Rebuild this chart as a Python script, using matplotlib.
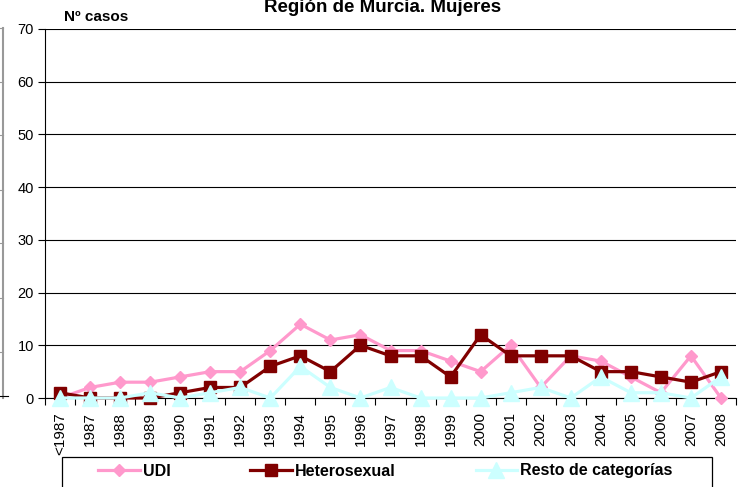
import matplotlib
matplotlib.use("Agg")
import matplotlib.pyplot as plt
from matplotlib.lines import Line2D
from matplotlib.patches import Rectangle

plt.rcParams['font.family'] = ['Liberation Sans', 'DejaVu Sans']

years = ["<1987", "1987", "1988", "1989", "1990", "1991", "1992", "1993", "1994", "1995",
         "1996", "1997", "1998", "1999", "2000", "2001", "2002", "2003", "2004", "2005",
         "2006", "2007", "2008"]
udi = [0, 2, 3, 3, 4, 5, 5, 9, 14, 11, 12, 9, 9, 7, 5, 10, 2, 8, 7, 4, 1, 8, 0]
hetero = [1, 0, 0, 0, 1, 2, 2, 6, 8, 5, 10, 8, 8, 4, 12, 8, 8, 8, 5, 5, 4, 3, 5]
resto = [0, 0, 0, 1, 0, 1, 2, 0, 6, 2, 0, 2, 0, 0, 0, 1, 2, 0, 4, 1, 1, 0, 4]
yticks = [0, 10, 20, 30, 40, 50, 60, 70]

W, H = 744, 487
fig = plt.figure(figsize=(W/100, H/100), dpi=100)
ax = fig.add_axes([45/W, 1 - 398/H, (736-45)/W, (398-29)/H])

x = list(range(len(years)))
ax.plot(x, udi, color="#FF99CC", lw=2.3, marker="D", ms=6.5, label="UDI", zorder=3, clip_on=False)
ax.plot(x, hetero, color="#800000", lw=2.3, marker="s", ms=9, label="Heterosexual", zorder=4, clip_on=False)
ax.plot(x, resto, color="#CCFFFF", lw=2.3, marker="^", ms=11, label="Resto de categorías", zorder=5, clip_on=False)

ax.set_xlim(-0.5, len(years) - 0.5)
ax.set_ylim(0, 70)
ax.set_yticks(yticks)
ax.set_yticklabels([str(v) for v in yticks], fontsize=10.5)
ax.yaxis.grid(True, color="black", lw=0.8)
ax.set_axisbelow(True)
ax.tick_params(axis='y', direction='out', length=5, width=0.8, pad=3)

ax.set_xticks([i - 0.5 for i in range(len(years) + 1)], minor=False)
ax.set_xticklabels([])
ax.set_xticks(x, minor=True)
ax.set_xticklabels(years, minor=True, rotation=90, fontsize=11)
ax.tick_params(axis='x', which='major', direction='out', length=5, width=0.8)
ax.tick_params(axis='x', which='minor', length=0, pad=10)

for s in ["top", "right"]:
    ax.spines[s].set_visible(False)
ax.spines["left"].set_linewidth(0.8)
ax.spines["bottom"].set_linewidth(0.8)

fig.text(383/W, 1 - 7/H, "Región de Murcia. Mujeres", ha="center", va="center",
         fontsize=13.5, fontweight="bold")
fig.text(64/W, 1 - 17/H, "Nº casos", ha="left", va="center", fontsize=11, fontweight="bold")

# legend box
fig.add_artist(Rectangle((62/W, 1 - 490/H), (712-62)/W, (490-457)/H, transform=fig.transFigure,
                         facecolor="white", edgecolor="black", lw=0.9, zorder=1))
leg = fig.legend(loc="center left", bbox_to_anchor=(98/W, 1 - 471/H), ncol=3, frameon=False,
                 handlelength=2.6, handletextpad=0.2, columnspacing=5.0, borderpad=0,
                 borderaxespad=0, prop={'weight': 'bold', 'size': 11.5})
leg.set_zorder(2)

# clipped neighbouring frame on the left edge
fig.add_artist(Line2D([3/W, 3/W], [1 - 28/H, 1 - 398/H], color="#999999", lw=1.5))
for yy in [28, 82, 135, 190, 243, 298, 352]:
    fig.add_artist(Line2D([0, 3/W], [1 - yy/H, 1 - yy/H], color="#999999", lw=0.8))
fig.add_artist(Line2D([0, 8/W], [1 - 396/H, 1 - 396/H], color="black", lw=0.8))

fig.savefig("out.png", dpi=100)
